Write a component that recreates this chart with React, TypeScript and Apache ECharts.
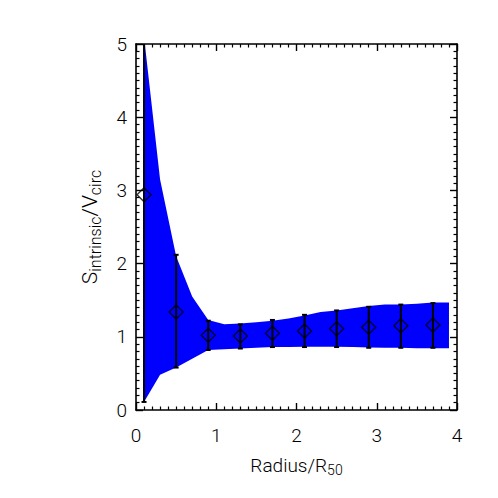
import React, { useEffect, useRef } from "react";
import * as echarts from "echarts";

// Shaded band (upper / lower envelope)
const bandX = [0.1, 0.3, 0.5, 0.7, 0.9, 1.1, 1.3, 1.5, 1.7, 1.9, 2.1, 2.3, 2.5, 2.7, 2.9, 3.1, 3.3, 3.5, 3.7, 3.9];
const bandUpper = [5.1, 3.15, 2.1, 1.55, 1.23, 1.17, 1.18, 1.2, 1.22, 1.25, 1.29, 1.34, 1.36, 1.39, 1.42, 1.44, 1.44, 1.45, 1.47, 1.47];
const bandLower = [0.11, 0.48, 0.58, 0.7, 0.82, 0.83, 0.84, 0.85, 0.86, 0.86, 0.865, 0.865, 0.865, 0.86, 0.855, 0.85, 0.85, 0.845, 0.845, 0.845];

// Points with error bars
const pointX = [0.1, 0.5, 0.9, 1.3, 1.7, 2.1, 2.5, 2.9, 3.3, 3.7];
const pointY = [2.94, 1.34, 1.02, 1.01, 1.05, 1.08, 1.11, 1.13, 1.15, 1.16];
const errLow = [0.11, 0.58, 0.82, 0.84, 0.86, 0.86, 0.86, 0.85, 0.85, 0.85];
const errHigh = [5.3, 2.12, 1.22, 1.17, 1.23, 1.3, 1.36, 1.41, 1.44, 1.46];

const xTicks = [0, 1, 2, 3, 4];
const yTicks = [0, 1, 2, 3, 4, 5];

const FONT = "Roboto";

export default function App() {
  const ref = useRef<HTMLDivElement>(null);
  useEffect(() => {
    if (!ref.current) return;
    const chart = echarts.init(ref.current, null, { renderer: "svg" });
    const labelStyle = {
      show: true,
      color: "#000",
      fontFamily: FONT,
      fontWeight: 300,
      fontSize: 19,
    };
    const axisCommon = (showLabel: boolean) => ({
      type: "value" as const,
      axisLine: { show: true, onZero: false, lineStyle: { color: "#000", width: 1.6 } },
      axisTick: { show: true, inside: true, length: 7, lineStyle: { color: "#000", width: 1.4 } },
      minorTick: { show: true, splitNumber: 10, length: 3.5, lineStyle: { color: "#000", width: 1.2 } },
      splitLine: { show: false },
      axisLabel: { ...labelStyle, show: showLabel },
    });
    const option: any = {
      animation: false,
      backgroundColor: "#fff",
      grid: { left: 136, top: 44, right: 41, bottom: 88, containLabel: false },
      xAxis: [
        {
          ...axisCommon(true),
          min: xTicks[0],
          max: xTicks[xTicks.length - 1],
          interval: 1,
          position: "bottom",
          axisLabel: { ...labelStyle, margin: 16 },
          name: "Radius/R{s|50}",
          nameLocation: "middle",
          nameGap: 44,
          nameTextStyle: {
            color: "#000",
            fontFamily: FONT,
            fontWeight: 300,
            fontSize: 19,
            rich: { s: { fontSize: 14, fontFamily: FONT, fontWeight: 300, color: "#000", padding: [9, 0, 0, 0] } },
          },
        },
        {
          ...axisCommon(false),
          min: xTicks[0],
          max: xTicks[xTicks.length - 1],
          interval: 1,
          position: "top",
        },
      ],
      yAxis: [
        {
          ...axisCommon(true),
          min: yTicks[0],
          max: yTicks[yTicks.length - 1],
          interval: 1,
          position: "left",
          axisLabel: { ...labelStyle, margin: 9 },
          name: "S{s|intrinsic}/V{s|circ}",
          nameLocation: "middle",
          nameGap: 33,
          nameRotate: 90,
          nameTextStyle: {
            color: "#000",
            fontFamily: FONT,
            fontWeight: 300,
            fontSize: 21,
            rich: { s: { fontSize: 16, fontFamily: FONT, fontWeight: 300, color: "#000", padding: [10, 0, 0, 0] } },
          },
        },
        {
          ...axisCommon(false),
          min: yTicks[0],
          max: yTicks[yTicks.length - 1],
          interval: 1,
          position: "right",
        },
      ],
      series: [
        {
          type: "custom",
          name: "band",
          xAxisIndex: 0,
          yAxisIndex: 0,
          data: [[bandX[0], bandLower[0]]],
          clip: true,
          silent: true,
          renderItem: (params: any, api: any) => {
            const pts: number[][] = [];
            for (let i = 0; i < bandX.length; i++) pts.push(api.coord([bandX[i], bandUpper[i]]));
            for (let i = bandX.length - 1; i >= 0; i--) pts.push(api.coord([bandX[i], bandLower[i]]));
            const cs = params.coordSys;
            return {
              type: "group",
              children: [
                { type: "polygon", shape: { points: pts }, style: { fill: "#0000ff", stroke: "none" } },
              ],
              clipPath: { type: "rect", shape: { x: cs.x, y: cs.y, width: cs.width, height: cs.height } },
            };
          },
          z: 1,
        },
        {
          type: "custom",
          name: "errors",
          data: pointX.map((x, i) => [x, errLow[i], errHigh[i]]),
          encode: { x: 0, y: [1, 2] },
          silent: true,
          renderItem: (params: any, api: any) => {
            const x = api.value(0);
            const lo = api.coord([x, api.value(1)]);
            const hi = api.coord([x, api.value(2)]);
            const hw = 2.5;
            const st = { stroke: "#000", lineWidth: 2 };
            const cs = params.coordSys;
            return {
              type: "group",
              children: [
                { type: "line", shape: { x1: lo[0], y1: lo[1], x2: hi[0], y2: hi[1] }, style: st },
                { type: "line", shape: { x1: lo[0] - hw, y1: lo[1], x2: lo[0] + hw, y2: lo[1] }, style: st },
                { type: "line", shape: { x1: hi[0] - hw, y1: hi[1], x2: hi[0] + hw, y2: hi[1] }, style: st },
              ],
              clipPath: { type: "rect", shape: { x: cs.x, y: cs.y, width: cs.width, height: cs.height } },
            };
          },
          z: 2,
        },
        {
          type: "scatter",
          name: "points",
          data: pointX.map((x, i) => [x, pointY[i]]),
          symbol: "diamond",
          symbolSize: [14, 14],
          itemStyle: { color: "rgba(0,0,0,0)", borderColor: "#000", borderWidth: 1.4 },
          silent: true,
          z: 3,
        },
      ],
    };
    chart.setOption(option);
    return () => chart.dispose();
  }, []);
  return (
    <div
      ref={ref}
      style={{ position: "fixed", left: 0, top: 0, width: 498, height: 498, background: "#fff" }}
    />
  );
}
